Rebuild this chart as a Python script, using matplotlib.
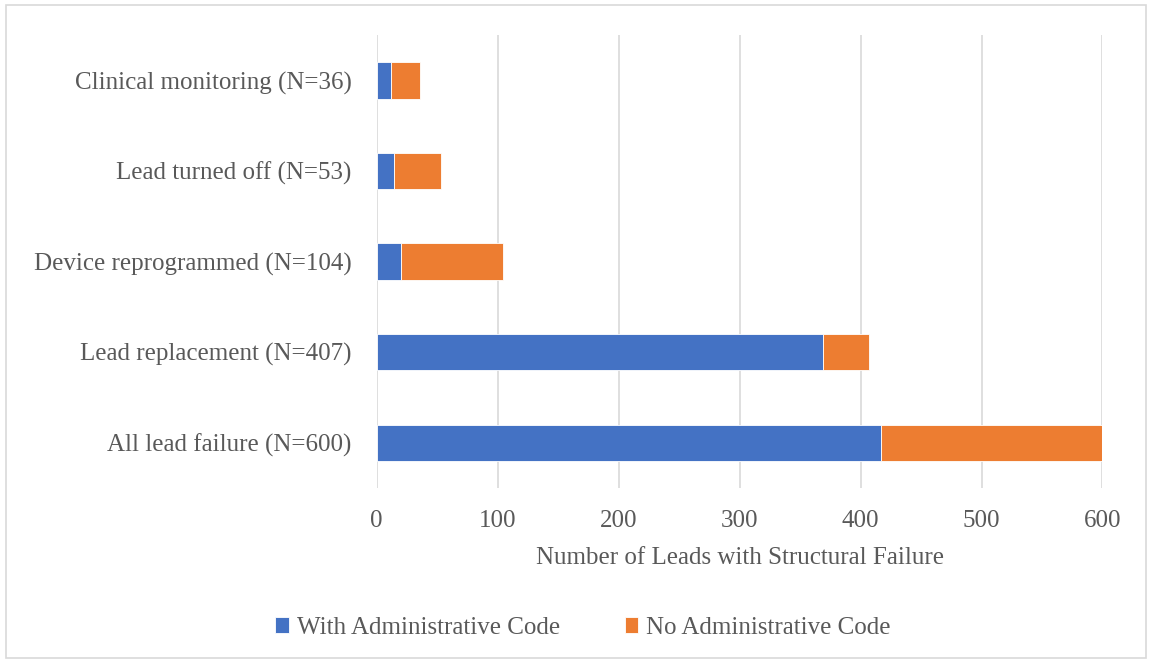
import matplotlib
matplotlib.use("Agg")
from matplotlib import pyplot as plt
from matplotlib.patches import Rectangle

# categories listed bottom to top
categories = ["All lead failure (N=600)", "Lead replacement (N=407)",
              "Device reprogrammed (N=104)", "Lead turned off (N=53)",
              "Clinical monitoring (N=36)"]
with_code = [417, 369, 20, 14, 12]
no_code = [183, 38, 84, 39, 24]
x_ticks = [0, 100, 200, 300, 400, 500, 600]

plt.rcParams['font.family'] = ['Liberation Serif', 'DejaVu Serif']
text_color = '#595959'
fs = 18

fig = plt.figure(figsize=(11.52, 6.63), dpi=100)
ax = fig.add_axes([0.327, 0.264, 0.63, 0.683])

ax.barh(categories, with_code, height=0.4, color='#4472C4',
        edgecolor='white', linewidth=0.6, label='With Administrative Code', zorder=3)
ax.barh(categories, no_code, left=with_code, height=0.4, color='#ED7D31',
        edgecolor='white', linewidth=0.6, label='No Administrative Code', zorder=3)

ax.set_xlim(0, 600)
ax.set_ylim(-0.5, 4.5)
ax.set_xticks(x_ticks)
ax.grid(axis='x', color='#D9D9D9', linewidth=1.2, zorder=0)
for s in ax.spines.values():
    s.set_visible(False)
ax.tick_params(length=0, labelsize=fs, colors=text_color)
ax.tick_params(axis='y', pad=18)
ax.tick_params(axis='x', pad=16)
ax.set_xlabel('Number of Leads with Structural Failure', fontsize=fs,
              color=text_color, labelpad=11)

fig.legend(loc='center', bbox_to_anchor=(0.506, 0.053), ncol=2, frameon=False,
           fontsize=fs, labelcolor=text_color, handlelength=0.55, handleheight=0.55,
           handletextpad=0.3, columnspacing=2.6)

# outer chart border
fig.patches.append(Rectangle((0.005, 0.008), 0.99, 0.984, transform=fig.transFigure,
                             fill=False, edgecolor='#D9D9D9', linewidth=1.2))

plt.savefig('out.png', dpi=100)
